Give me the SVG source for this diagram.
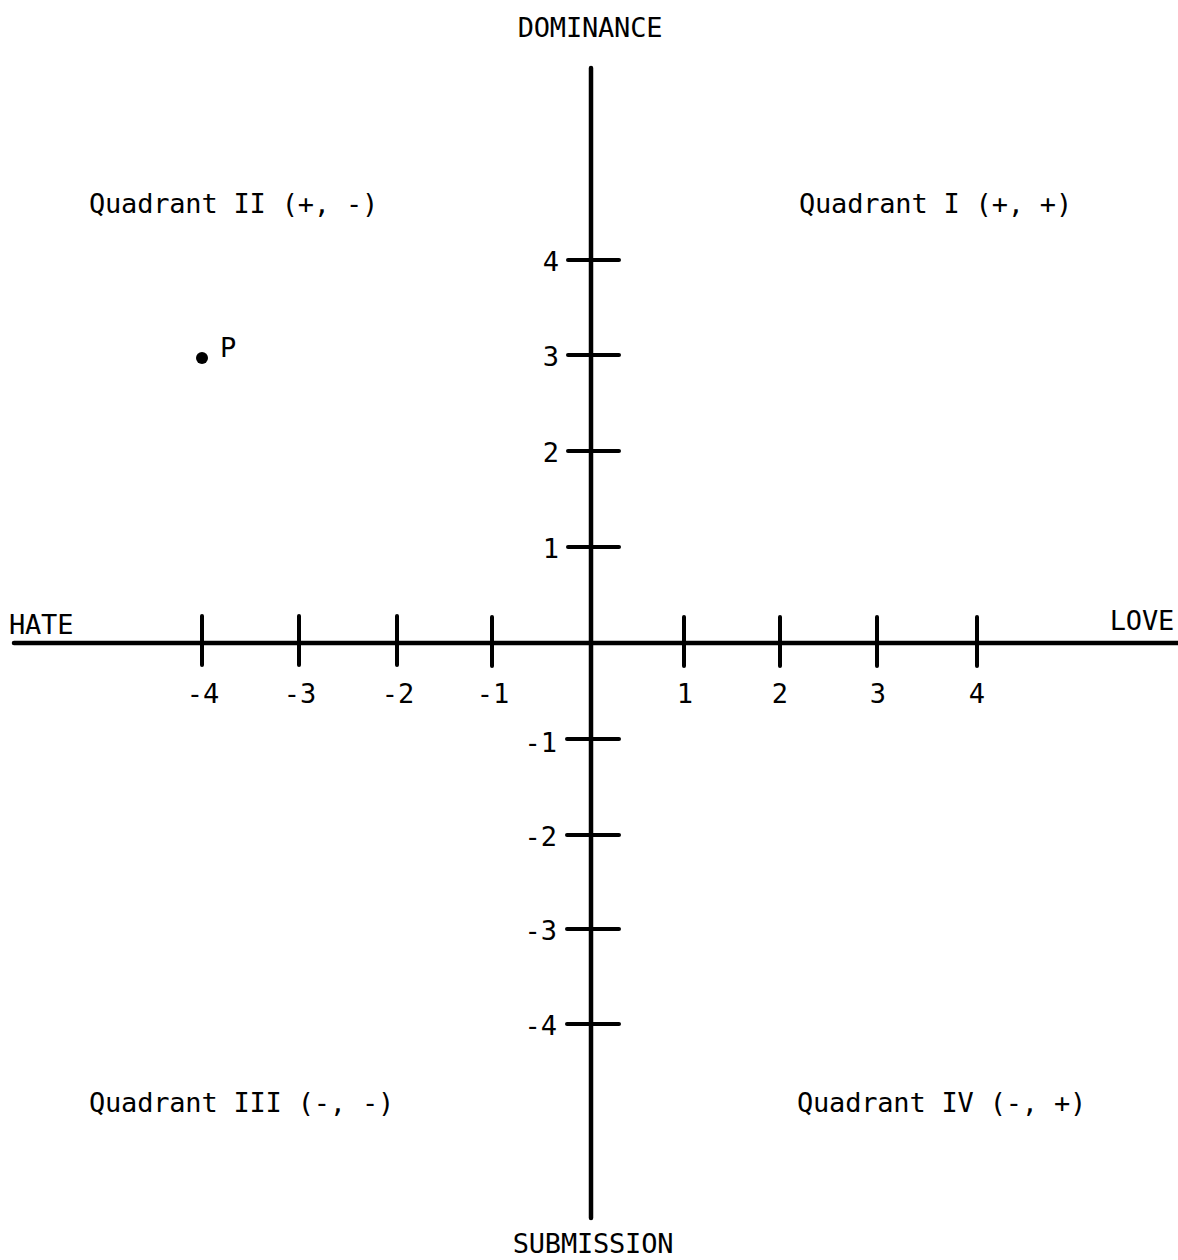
<svg xmlns="http://www.w3.org/2000/svg" width="1178" height="1260" viewBox="0 0 1178 1260">
<style>
text{font-family:"DejaVu Sans Mono","Liberation Mono",monospace;fill:#000;}
.lbl{font-size:27px;letter-spacing:-0.2px;}
.num{font-size:27px;}
.axis{stroke:#000;stroke-width:4.5;stroke-linecap:round;fill:none;}
.tick{stroke:#000;stroke-width:4;stroke-linecap:round;fill:none;}
</style>
<rect width="1178" height="1260" fill="#fff"/>
<g id="connectors">
<line class="axis" x1="14" y1="643" x2="1178" y2="643"/>
<line class="axis" x1="591" y1="68" x2="591" y2="1218"/>
<g id="x-ticks">
<line class="tick" x1="202" y1="616" x2="202" y2="665"/>
<line class="tick" x1="299" y1="616" x2="299" y2="665"/>
<line class="tick" x1="397" y1="616" x2="397" y2="665"/>
<line class="tick" x1="492" y1="617" x2="492" y2="666"/>
<line class="tick" x1="684" y1="617" x2="684" y2="666"/>
<line class="tick" x1="780" y1="617" x2="780" y2="666"/>
<line class="tick" x1="877" y1="617" x2="877" y2="666"/>
<line class="tick" x1="977" y1="617" x2="977" y2="666"/>
</g>
<g id="y-ticks">
<line class="tick" x1="568" y1="260" x2="619" y2="260"/>
<line class="tick" x1="568" y1="355" x2="619" y2="355"/>
<line class="tick" x1="568" y1="451" x2="619" y2="451"/>
<line class="tick" x1="568" y1="547" x2="619" y2="547"/>
<line class="tick" x1="567" y1="739" x2="619" y2="739"/>
<line class="tick" x1="567" y1="835" x2="619" y2="835"/>
<line class="tick" x1="567" y1="929" x2="619" y2="929"/>
<line class="tick" x1="567" y1="1024" x2="619" y2="1024"/>
</g>
</g>
<g id="axis-labels">
<text id="dominance" class="lbl" x="590" y="37" text-anchor="middle">DOMINANCE</text>
<text id="submission" class="lbl" x="593" y="1253" text-anchor="middle">SUBMISSION</text>
<text id="hate" class="lbl" x="9" y="634">HATE</text>
<text id="love" class="lbl" x="1174" y="630" text-anchor="end">LOVE</text>
</g>
<g id="quadrants">
<text id="q2" class="lbl" x="89" y="213">Quadrant II (+, -)</text>
<text id="q1" class="lbl" x="799" y="213">Quadrant I (+, +)</text>
<text id="q3" class="lbl" x="89" y="1112">Quadrant III (-, -)</text>
<text id="q4" class="lbl" x="797" y="1112">Quadrant IV (-, +)</text>
</g>
<g id="y-labels">
<text class="num" x="559" y="271" text-anchor="end">4</text>
<text class="num" x="559" y="366" text-anchor="end">3</text>
<text class="num" x="559" y="462" text-anchor="end">2</text>
<text class="num" x="559" y="558" text-anchor="end">1</text>
<text class="num" x="557" y="752" text-anchor="end">-1</text>
<text class="num" x="557" y="846" text-anchor="end">-2</text>
<text class="num" x="557" y="940" text-anchor="end">-3</text>
<text class="num" x="557" y="1035" text-anchor="end">-4</text>
</g>
<g id="x-labels">
<text class="num" x="203" y="703" text-anchor="middle">-4</text>
<text class="num" x="300" y="703" text-anchor="middle">-3</text>
<text class="num" x="398" y="703" text-anchor="middle">-2</text>
<text class="num" x="493" y="703" text-anchor="middle">-1</text>
<text class="num" x="685" y="703" text-anchor="middle">1</text>
<text class="num" x="780" y="703" text-anchor="middle">2</text>
<text class="num" x="878" y="703" text-anchor="middle">3</text>
<text class="num" x="977" y="703" text-anchor="middle">4</text>
</g>
<g id="point-p">
<circle cx="202" cy="358" r="6" fill="#000"/>
<text class="num" x="220" y="357">P</text>
</g>
</svg>
